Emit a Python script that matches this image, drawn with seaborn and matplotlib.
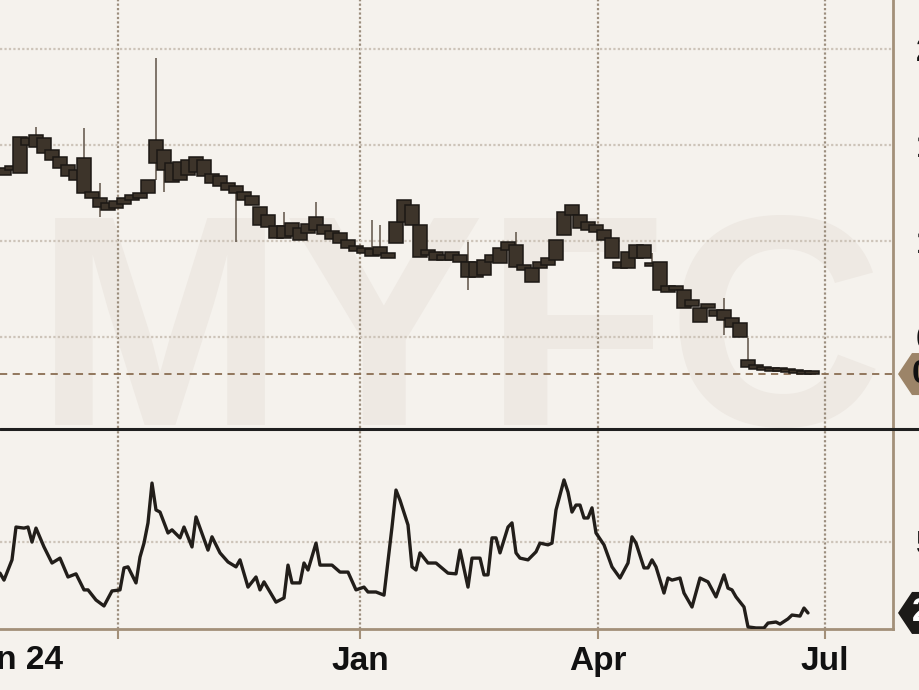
import numpy as np
import pandas as pd
import matplotlib
matplotlib.use("Agg")
from matplotlib import pyplot as plt
from matplotlib.lines import Line2D
from matplotlib.patches import Polygon
from matplotlib.transforms import IdentityTransform
import seaborn as sns

# price candles, one every second trading session
candle_session = list(range(1, 204, 2))
candle_open = [1.344, 1.370, 1.354, 1.536, 1.490, 1.536, 1.474, 1.438, 1.396, 1.370,
               1.432, 1.255, 1.224, 1.198, 1.172, 1.193, 1.214, 1.224, 1.250, 1.406,
               1.474, 1.406, 1.318, 1.344, 1.359, 1.422, 1.349, 1.339, 1.302, 1.286,
               1.255, 1.234, 1.177, 1.135, 1.078, 1.016, 1.026, 1.068, 1.042, 1.057,
               1.083, 1.052, 1.042, 1.005, 0.974, 0.964, 0.958, 0.927, 0.938, 0.990,
               1.099, 1.188, 1.083, 0.953, 0.943, 0.927, 0.943, 0.927, 0.891, 0.813,
               0.823, 0.891, 0.885, 0.953, 0.979, 0.875, 0.859, 0.859, 0.875, 0.901,
               1.031, 1.135, 1.135, 1.099, 1.083, 1.057, 1.016, 0.891, 0.859, 0.911,
               0.979, 0.885, 0.891, 0.766, 0.766, 0.745, 0.693, 0.651, 0.672, 0.641,
               0.641, 0.599, 0.573, 0.380, 0.354, 0.344, 0.339, 0.333, 0.333, 0.328,
               0.323, 0.318]
candle_close = [1.380, 1.391, 1.542, 1.500, 1.552, 1.458, 1.422, 1.380, 1.339, 1.318,
                1.250, 1.224, 1.177, 1.161, 1.208, 1.224, 1.240, 1.250, 1.318, 1.526,
                1.370, 1.307, 1.411, 1.422, 1.438, 1.339, 1.302, 1.286, 1.266, 1.250,
                1.214, 1.188, 1.083, 1.073, 1.016, 1.078, 1.094, 1.005, 1.089, 1.125,
                1.036, 1.010, 0.990, 0.964, 0.948, 0.938, 0.922, 0.969, 0.911, 1.099,
                1.214, 1.083, 0.917, 0.927, 0.901, 0.901, 0.901, 0.891, 0.813, 0.891,
                0.901, 0.927, 0.964, 0.995, 0.865, 0.849, 0.786, 0.891, 0.911, 1.005,
                1.151, 1.188, 1.068, 1.057, 1.047, 1.005, 0.911, 0.859, 0.943, 0.979,
                0.911, 0.870, 0.745, 0.734, 0.745, 0.651, 0.661, 0.578, 0.651, 0.609,
                0.589, 0.552, 0.500, 0.344, 0.333, 0.328, 0.323, 0.323, 0.318, 0.313,
                0.307, 0.307]
# candles with visible wicks (candle number, high, low)
wick_index = [4, 10, 12, 19, 20, 29, 35, 39, 46, 47, 58, 64, 81, 90, 93]
wick_high = [1.594, 1.589, 1.302, 1.953, None, None, 1.151, 1.203, 1.109, 1.083,
             0.995, 1.047, 0.938, 0.703, 0.495]
wick_low = [None, None, 1.125, 1.318, 1.255, 0.995, None, None, None, None,
            0.745, None, None, 0.510, None]

# lower indicator line
osc_session = [0, 1, 3, 4, 6, 7, 8, 9, 11, 13, 15, 17, 19, 21, 22, 24, 26, 28, 30, 31,
               32, 34, 35, 36, 37, 38, 39, 40, 42, 43, 45, 46, 48, 49, 52, 53, 55, 57, 59, 60,
               62, 64, 65, 66, 69, 71, 72, 73, 75, 76, 77, 79, 80, 83, 85, 87, 89, 91, 92, 94,
               96, 98, 99, 100, 102, 103, 104, 105, 107, 109, 112, 114, 115, 117, 118, 120,
               121, 122, 123, 124, 125, 127, 128, 129, 130, 132, 134, 135, 137, 138, 139, 141,
               142, 143, 144, 145, 146, 147, 148, 149, 151, 153, 155, 157, 158, 159, 161, 162,
               163, 164, 166, 167, 168, 170, 171, 173, 175, 177, 179, 181, 182, 183, 184, 186,
               187, 189, 191, 192, 194, 195, 197, 198, 200, 201, 202]
osc_value = [41.0, 39.0, 44.8, 54.2, 53.9, 54.2, 49.9, 53.9, 48.5, 43.9,
             45.3, 39.9, 40.8, 36.2, 36.2, 33.3, 31.6, 35.9, 36.2, 42.5,
             42.8, 38.2, 45.6, 49.6, 55.4, 66.8, 59.1, 58.5, 52.5, 53.4,
             51.1, 54.2, 48.5, 57.1, 47.6, 51.4, 46.8, 44.2, 42.8, 44.8,
             37.0, 39.9, 36.2, 38.5, 32.7, 33.9, 43.3, 38.2, 38.2, 43.9,
             41.9, 49.6, 43.3, 43.3, 41.3, 41.3, 36.2, 37.0, 35.6, 35.6,
             34.7, 54.2, 64.8, 61.9, 54.8, 42.8, 41.9, 46.8, 43.9, 43.9,
             41.0, 40.8, 47.6, 37.0, 45.3, 45.3, 40.5, 40.5, 51.1, 51.1,
             46.8, 54.2, 55.4, 46.8, 45.3, 44.8, 47.1, 49.6, 49.1, 49.6,
             59.1, 67.7, 64.2, 58.5, 60.5, 60.5, 56.8, 56.8, 59.7, 52.5,
             49.1, 42.8, 39.6, 43.9, 51.4, 49.6, 42.5, 42.5, 44.8, 42.8,
             35.3, 39.6, 39.0, 39.6, 35.3, 31.3, 39.6, 38.5, 34.2, 40.5,
             36.7, 36.2, 34.2, 31.3, 25.6, 25.3, 25.3, 26.7, 27.0, 26.4,
             27.9, 29.0, 28.7, 31.0, 29.6]

price_ticks = [0.5, 1.0, 1.5, 2.0]
price_labels = ['0.5', '1', '1.5', '2']
osc_ticks = [50]
osc_labels = ['50']
month_ticks = [29.5, 90, 149.5, 206.25]
month_labels = ['', 'Jan', 'Apr', 'Jul']

BG = '#f5f2ed'
WATERMARK = '#eee9e3'
BODY = '#3d342a'
EDGE = '#1c1814'
WICK = '#5e5246'
LINE = '#221e1a'
SPINE = '#a39079'
VGRID = '#9c8e7e'
HGRID = '#cdc4b9'

sns.set_theme(style='white', rc={'axes.facecolor': BG, 'figure.facecolor': BG})
plt.rcParams['font.family'] = ['Liberation Sans', 'DejaVu Sans']

fig = plt.figure(figsize=(9.2, 6.9), dpi=100)
ax = fig.add_axes([0, 262 / 690, 893 / 920, 428 / 690])
ax2 = fig.add_axes([0, 61 / 690, 893 / 920, 199 / 690])

# --- price panel
candles = pd.DataFrame({'session': candle_session, 'open': candle_open, 'close': candle_close})
candles['top'] = candles[['open', 'close']].max(axis=1)
candles['bottom'] = candles[['open', 'close']].min(axis=1)
candles['high'] = candles['top']
candles['low'] = candles['bottom']
for i, hi, lo in zip(wick_index, wick_high, wick_low):
    if hi is not None:
        candles.loc[i, 'high'] = hi
    if lo is not None:
        candles.loc[i, 'low'] = lo

ax.text(0.515, 0.007, 'MYFC', transform=ax.transAxes, ha='center', va='baseline',
        fontsize=216, fontweight='bold', color=WATERMARK, zorder=0)
ax.vlines(candles['session'], candles['low'], candles['high'], color=WICK, lw=1.1, zorder=3)
ax.bar(candles['session'], np.maximum(candles['top'] - candles['bottom'], 0.014),
       bottom=candles['bottom'], width=3.3, color=BODY, edgecolor=EDGE, linewidth=1.1, zorder=4)
ax.axhline(candle_close[-1], color='#8a6e52', lw=1.3, ls=(0, (4, 3)), zorder=2)

ax.set_xlim(0, 223.25)
ax.set_ylim(0.026, 2.255)
ax.set_axisbelow(True)
ax.set_xticks(month_ticks)
ax.set_xticklabels([])
ax.tick_params(axis='x', length=0)
ax.yaxis.tick_right()
ax.set_yticks(price_ticks)
ax.set_yticklabels(price_labels, fontsize=24, fontweight='bold', color='#111111')
ax.tick_params(axis='y', length=0, pad=16.5)
ax.grid(axis='x', color=VGRID, lw=1.6, ls=(0, (1, 1)))
ax.grid(axis='y', color=HGRID, lw=1.6, ls=(0, (1, 1)))
for s in ['left', 'top', 'bottom']:
    ax.spines[s].set_visible(False)
ax.spines['right'].set_color(SPINE)
ax.spines['right'].set_linewidth(2)

# --- indicator panel
sns.lineplot(x=osc_session, y=osc_value, ax=ax2, color=LINE, lw=2.4, zorder=3)
ax2.set_xlim(0, 223.25)
ax2.set_ylim(25, 82)
ax2.set_axisbelow(True)
ax2.set_xticks(month_ticks)
ax2.set_xticklabels(month_labels, fontsize=24, fontweight='bold', color='#111111')
ax2.tick_params(axis='x', length=7.2, width=1.5, color=SPINE, pad=5, direction='out', bottom=True)
ax2.yaxis.tick_right()
ax2.set_yticks(osc_ticks)
ax2.set_yticklabels(osc_labels, fontsize=24, fontweight='bold', color='#111111')
ax2.tick_params(axis='y', length=0, pad=16.5)
ax2.grid(axis='x', color=VGRID, lw=1.6, ls=(0, (1, 1)))
ax2.grid(axis='y', color=HGRID, lw=1.6, ls=(0, (1, 1)))
ax2.set_xlabel('')
ax2.set_ylabel('')
for s in ['left', 'top']:
    ax2.spines[s].set_visible(False)
for s in ['right', 'bottom']:
    ax2.spines[s].set_color(SPINE)
    ax2.spines[s].set_linewidth(2)
ax2.text(15.75, -0.082, 'Jun 24', transform=ax2.get_xaxis_transform(), ha='right', va='top',
         fontsize=24, fontweight='bold', color='#111111', clip_on=False)

# separator between the panels
fig.add_artist(Line2D([0, 1], [261.5 / 690, 261.5 / 690], transform=fig.transFigure,
                      color='#1f1f1f', lw=2.2))


def badge(axis, value, face, label, tcolor):
    y = axis.transData.transform((0, value))[1]
    x0 = axis.transAxes.transform((1, 0))[0]
    verts = [(x0 + 5, y), (x0 + 19, y + 21), (x0 + 90, y + 21), (x0 + 90, y - 21), (x0 + 19, y - 21)]
    fig.add_artist(Polygon(verts, closed=True, transform=IdentityTransform(),
                           facecolor=face, edgecolor='none'))
    fig.text((x0 + 19) / 920, y / 690, label, ha='left', va='center', fontsize=24,
             fontweight='bold', color=tcolor)


badge(ax, candle_close[-1], '#9c8468', '0.31', '#111111')
badge(ax2, osc_value[-1], '#1c1a18', '29.6', '#ffffff')

fig.savefig('out.png', dpi=100, facecolor=BG)
